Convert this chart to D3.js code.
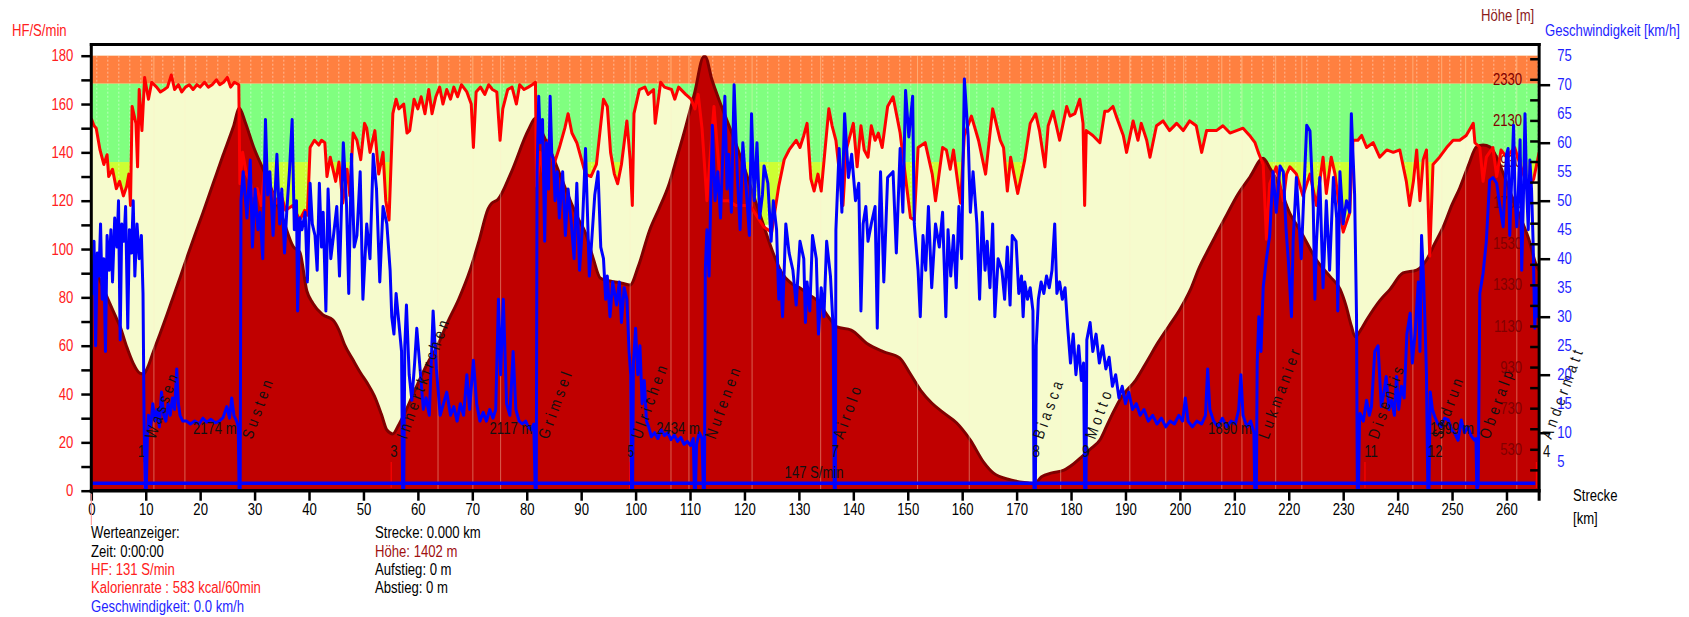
<!DOCTYPE html>
<html>
<head>
<meta charset="utf-8">
<script src="https://cdn.jsdelivr.net/npm/d3@7"></script>
<style>
  body { margin: 0; background: #fff; }
  svg { display: block; }
</style>
</head>
<body>
<svg id="chart" width="1689" height="617"></svg>
<script>
const FONT = '"Liberation Sans", Arial, sans-serif';
const SCHMAL = 0.82;   // Schrift wie Arial Narrow zusammendrücken

// Höhenprofil [km, m]
const hoehe = [
  [0,1418],[0.9,1402],[1.6,1353],[2.5,1295],[3.4,1240],[4.4,1180],[5.3,1126],[6.5,1029],[7.7,948],[8.9,900],[9.6,896],
  [10.3,925],[11.4,1005],[12.6,1090],[13.9,1185],[15.1,1275],[16.3,1365],[17.8,1480],[19,1570],[20.5,1680],[22.4,1824],
  [24.2,1960],[26.1,2099],[27.2,2189],[28.3,2120],[29.8,2002],[31.6,1890],[33.4,1775],[35.2,1650],[37.1,1516],[38.3,1490],
  [39.6,1300],[40.7,1241],[42.5,1185],[44.4,1159],[45.5,1110],[46.5,1040],[48.1,964],[49.5,900],[50.7,852],[52,790],
  [53.3,700],[54.3,624],[55.4,605],[56.5,650],[58,730],[60,850],[61.8,950],[63.5,1028],[65.5,1150],[67.5,1260],
  [69.6,1402],[71.3,1550],[72.9,1700],[73.5,1725],[74.7,1745],[77.1,1874],[80.3,2083],[81.6,2140],[82.5,2090],[84.3,1986],
  [86.2,1860],[88.2,1727],[89.5,1650],[90.8,1582],[92.2,1460],[93.5,1363],[95,1350],[96,1345],[97.5,1338],[99,1329],
  [100.5,1420],[102.6,1597],[104.3,1700],[106,1808],[107.6,1950],[109.2,2099],[110.9,2270],[112.5,2440],[112.8,2440],[114,2330],
  [115.8,2197],[117.8,2060],[119.7,1921],[121.6,1770],[123.6,1613],[125.2,1490],[126.9,1386],[128.5,1340],[130.2,1315],[132,1280],
  [133.6,1248],[135,1190],[136,1154],[137,1125],[139.6,1110],[142.5,1045],[145.5,1005],[148.5,975],[150.4,900],[152.4,815],
  [154.4,755],[156.6,707],[159,658],[161.5,575],[164,465],[165.7,415],[168.9,381],[172.2,366],[173.3,362],[174.6,397],
  [176.5,415],[178.7,429],[180.5,460],[182,494],[183.5,530],[185.3,575],[186.5,640],[187.7,707],[189.3,786],[191.9,867],
  [194,960],[196,1050],[198,1130],[200,1210],[202,1310],[203.5,1410],[205,1490],[206.8,1581],[208.6,1670],[210.4,1759],
  [212.9,1856],[215.3,1946],[216.5,1900],[217.8,1840],[220.2,1678],[222.2,1590],[225.1,1451],[227.6,1370],[229.4,1310],[230.5,1230],
  [231.5,1130],[232.2,1077],[233.2,1110],[234.3,1159],[236.8,1256],[238.6,1308],[241,1388],[243.5,1402],[245.3,1451],[246.8,1530],
  [248.4,1613],[250,1720],[251.4,1800],[253,1910],[254.5,2002],[255.7,2010],[257,2000],[258.2,1950],[259.4,1873],[261,1760],
  [262.5,1662],[264,1560],[265.6,1418],[266,1400]
];

// Herzfrequenz [km, S/min]
const herzfrequenz = [
  [0,154],[0.5,151],[0.9,150],[1.6,141],[2.3,135],[2.9,139],[3.2,130],[3.9,133],[4.6,125],[5.2,128],[5.9,122],[6.5,126],
  [6.9,131],[7.2,118],[7.5,159],[8.2,152],[8.5,134],[8.8,166],[9.3,149],[9.8,171],[10.5,162],[11.1,169],[12,167],[12.7,165],
  [13.4,166],[14,167],[14.7,172],[15.3,166],[16,168],[16.6,165],[17.3,167],[18,168],[18.7,166],[19.4,168],[20,167],[20.8,169],
  [21.5,167],[22.2,168],[23,170],[23.6,168],[24.3,169],[25,171],[25.6,167],[26.3,169],[27.1,168],[27.3,127],[27.8,140],[28.5,131],
  [29.2,128],[29.8,122],[30.5,125],[31.2,118],[31.8,132],[32.5,128],[33.1,124],[34,119],[34.8,123],[35.7,116],[37,118],[38.3,112],
  [39.2,116],[39.7,114],[40.2,142],[41,145],[41.8,143],[42.3,145],[42.9,144],[43.3,130],[43.9,138],[44.9,128],[45.5,136],[46.2,119],
  [47,133],[47.5,122],[48.1,148],[48.8,145],[49.5,137],[50.2,152],[50.6,150],[51.2,140],[52.1,149],[52.8,131],[53.6,140],[54.1,120],
  [54.7,112],[55.4,156],[56,162],[56.5,158],[57.4,160],[58,148],[58.5,149],[59.3,162],[60,158],[60.6,163],[61.3,156],[62,166],
  [62.6,156],[63.3,163],[64,167],[64.6,160],[65.3,166],[66,162],[66.6,167],[67.3,163],[68,168],[69,165],[69.8,160],[70.2,142],
  [70.7,165],[71.5,167],[72.3,164],[73,168],[73.7,166],[74.5,165],[75.1,145],[75.6,158],[76.5,166],[77.3,167],[78.1,160],[78.7,168],
  [79.5,166],[80.3,167],[81,168],[81.6,169],[81.8,126],[82.5,140],[83,132],[84,145],[85,135],[86,142],[87,150],[87.6,156],
  [88.3,148],[89.2,144],[90.8,131],[91.8,130],[92.8,135],[94.1,162],[94.8,159],[95.4,140],[96.1,131],[96.7,127],[97.4,135],[98.4,153],
  [99,137],[99.4,118],[99.7,156],[100.7,166],[101.7,167],[102.3,164],[103.3,166],[103.6,152],[104.6,169],[105.3,167],[106.6,166],[107.2,162],
  [107.9,167],[109.2,164],[110.2,162],[110.9,158],[111.5,164],[112.2,150],[113.1,120],[114.4,159],[115.8,120],[117.1,120],[118.4,118],[121,118],
  [123.6,109],[125,107],[126.3,126],[127.3,137],[128.2,141],[129.5,145],[130.2,142],[130.9,147],[131.5,152],[132.2,129],[132.8,124],[133.5,131],
  [134.1,124],[135.5,158],[136.1,151],[136.8,145],[138.1,118],[138.7,141],[140,152],[140.7,134],[141.4,151],[142,141],[142.7,138],[143.3,151],
  [144,145],[144.6,148],[145.3,142],[146.3,159],[147.3,163],[148,155],[148.6,148],[149.9,124],[150.5,113],[151.2,112],[151.9,142],[153.2,144],
  [154.5,131],[155.1,120],[156.4,142],[157.1,141],[157.8,133],[158.4,141],[159.1,129],[159.7,119],[160.4,147],[161.7,155],[163,145],[164.3,131],
  [165.6,158],[167,145],[167.6,142],[168.3,124],[168.9,138],[170.2,123],[171.5,137],[172.5,152],[173.5,156],[174.2,149],[175.2,134],[175.8,151],
  [176.7,157],[177.9,145],[179.2,159],[179.8,155],[180.7,156],[181.6,162],[182.2,152],[182.5,118],[182.8,149],[184,147],[185.3,144],[186.2,157],
  [186.8,157],[187.7,159],[188.3,155],[189.6,147],[190.2,140],[191.4,153],[192.3,145],[192.9,152],[193.9,145],[194.5,138],[195.7,151],[196.9,153],
  [198.1,149],[199.4,152],[200.6,149],[201.8,153],[203,151],[204,140],[204.9,149],[206.7,149],[207.9,151],[209.2,148],[210.4,149],[211.6,150],
  [212.8,147],[213.8,144],[214.4,140],[215.3,135],[215.9,104],[216.5,127],[217.7,134],[219,120],[219.6,131],[220.2,134],[221.4,131],[222.6,122],
  [223.9,131],[225.1,118],[225.7,128],[226.3,138],[226.9,123],[227.8,138],[228.5,131],[229.4,115],[230,107],[231.2,115],[231.8,145],[232.7,145],
  [233.4,147],[234.3,142],[235.5,144],[236.7,138],[238,141],[239.2,140],[240.4,141],[241.6,128],[242.2,118],[242.9,128],[243.5,141],[244.1,120],
  [244.7,137],[245.3,141],[245.9,97],[246.5,135],[247.7,138],[249,142],[250.2,145],[251.4,145],[252.6,147],[253.9,152],[254.2,144],[255.1,142],
  [255.7,128],[256.3,138],[257.5,142],[258.2,130],[259,141],[260,138],[261.5,142],[262.5,135],[264,125],[265,129],[266,140]
];

// Geschwindigkeit [km, km/h]
const geschwindigkeit = [
  [0,38],[0.3,34],[0.5,43],[0.8,25],[1.1,41],[1.4,37],[1.7,46],[2,33],[2.3,40],[2.6,24],[2.9,44],[3.3,38],[3.6,45],[3.9,36],
  [4.3,47],[4.7,42],[5,50],[5.3,26],[5.6,46],[6,43],[6.3,49],[6.7,28],[7,45],[7.4,41],[7.7,50],[8,37],[8.4,46],[8.8,40],
  [9.2,44],[9.5,34],[9.7,12],[9.9,0],[10.1,0],[10.3,9],[10.5,13],[10.9,11],[11.3,15],[11.7,12],[12.1,14],[12.5,11],[12.9,17],
  [13.3,13],[13.7,12],[14.1,15],[14.5,13],[14.9,16],[15.3,14],[15.7,21],[16,15],[16.3,13],[16.8,12],[17.5,12],[18.2,11.5],
  [19,12],[19.8,11.5],[20.5,12.5],[21.2,11.8],[22,12.3],[22.8,11.7],[23.5,12],[24.2,12.6],[24.9,14.5],[25.4,12.5],[25.8,16],
  [26.2,13],[26.7,12],[27,11],[27.15,0],[27.35,0],[27.5,50],[27.9,55],[28.6,47],[29.2,57],[29.6,42],[30.1,52],[30.6,45],
  [31,48],[31.5,40],[32,64],[32.4,51],[32.8,55],[33.4,44],[34.1,58],[34.6,46],[35,52],[35.5,41],[35.9,48],[36.4,55],
  [36.9,64],[37.3,45],[37.7,50],[37.9,31],[38.3,47],[38.7,45],[39.3,48],[39.7,36],[40.2,53],[40.6,46],[41.1,44],[41.5,38],
  [41.9,53],[42.3,42],[42.6,48],[43.1,31],[43.5,52],[44,40],[44.5,44],[45.1,49],[45.6,37],[46.3,60],[46.9,49],[47.3,34],
  [47.8,58],[48.3,42],[48.8,44],[49.4,55],[49.9,33],[50.6,46],[51.2,40],[51.8,58],[52.4,52],[53,36],[53.6,49],[54.3,46],
  [54.9,38],[55.2,30],[55.6,27],[56,34],[56.5,29],[57,24],[57.2,0],[57.4,0],[57.6,25],[57.9,32],[58.4,20],[58.9,15.6],
  [59.4,22],[59.8,28],[60.4,21],[61,14],[61.5,16],[62.1,13],[62.8,31],[63.4,21],[64.1,13],[64.7,15],[65.3,17],[66,13],
  [66.6,14.5],[67.2,12],[67.8,15],[68.4,13],[69,20],[69.5,14],[70.2,22.5],[70.8,15],[71.4,12],[72,13.5],[72.6,12],[73.2,14],
  [73.8,12.5],[74.3,14],[74.8,33],[75.2,20],[75.7,33],[76.3,15],[76.9,13],[77.5,24],[78,14],[78.6,12],[79.2,11.5],[79.8,12],
  [80.3,11],[80.8,10.5],[81.3,11.5],[81.55,0],[81.75,0],[81.9,55],[82.2,68],[82.5,60],[82.9,64],[83.3,43],[83.6,60],[84,52],
  [84.3,68],[84.6,58],[84.9,57],[85.2,50],[85.6,55],[86,47],[86.6,55],[87.1,44],[87.6,52],[88.2,46],[88.7,40],[89.2,53],
  [89.7,38],[90.2,45],[90.8,59],[91.5,37],[92,44],[92.5,51],[93.1,55],[93.6,42],[94.1,40],[94.5,33],[94.8,37],[95.3,30],
  [95.8,36],[96.5,32],[97,36],[97.4,29],[97.9,35],[98.4,33],[98.8,24],[99.1,20],[99.25,0],[99.45,0],[99.6,22],[100,28],
  [100.4,20],[100.8,25],[101.2,15],[101.6,19],[102,12],[102.4,11],[102.9,9.3],[103.5,10],[104.1,9],[104.7,10.5],[105.3,9.5],
  [105.9,10],[106.5,8.8],[107.1,9.6],[107.7,8.5],[108.3,9.2],[108.9,8],[109.5,8.5],[110.1,7.8],[110.6,9],[110.8,0],[111,0],
  [111.2,8],[111.7,10],[112.2,9],[112.45,0],[112.65,0],[112.8,38],[113.1,45],[113.5,37],[114.1,63],[114.6,50],[115.1,55],
  [115.6,47],[116.4,68],[116.8,52],[117.1,58],[117.6,48],[118.1,70],[118.7,54],[119.2,45],[119.7,60],[120.4,51],[120.9,44],
  [121.3,65],[121.8,50],[122.3,60],[122.8,47],[123.3,51],[123.6,56],[124.3,53],[124.9,43],[125.3,50],[125.9,45],[126.3,33],
  [126.6,38],[127,30],[127.6,46],[128.2,41],[128.9,38],[129.5,32],[130.2,43],[130.9,40],[131.2,29],[131.5,36],[132,31],
  [132.5,44],[133.2,40],[133.6,27],[134.1,35],[134.6,30],[135.1,43],[135.8,37],[136.3,28],[136.5,0],[136.7,0],[136.8,45],
  [137.4,59],[137.9,48],[138.4,65],[139.1,54],[139.7,58],[140.4,50],[141,53],[141.4,31],[141.8,46],[142.3,49],[142.7,43],
  [143.3,46],[144,49],[144.4,28],[144.7,44],[145,55],[145.6,36],[146.3,54],[147.3,55],[147.9,41],[148.6,59],[149.1,48],
  [149.6,69],[150.2,61],[150.9,68],[151.2,46],[151.9,38],[152.3,30],[152.8,44],[153.3,38],[153.8,49],[154.4,35],[155.1,46],
  [155.8,42],[156.4,48],[157,30],[157.4,45],[157.9,37],[158.4,44],[158.9,35],[159.4,49],[159.9,40],[160.4,71],[161.1,61],
  [161.5,48],[162,55],[162.7,46],[163.2,33],[163.7,48],[164.2,38],[164.6,43],[165.1,35],[165.6,46],[166,30],[166.6,40],
  [167.3,38],[167.8,33],[168.3,42],[168.8,32],[169.2,44],[169.9,43],[170.4,34],[170.9,37],[171.2,30],[171.5,36],[172,33],
  [172.5,35],[173,31],[173.2,0],[173.45,0],[173.6,25],[174,33],[174.5,36],[175,34],[175.5,37],[176,35],[176.5,38],[177,46],
  [177.4,34],[177.9,36],[178.4,33],[178.9,35],[179.4,28],[179.9,22],[180.4,27],[180.9,20],[181.4,25],[181.9,19],[182.3,22],
  [182.5,0],[182.75,0],[182.9,26],[183.5,29],[184,24],[184.6,27],[185.2,22],[185.8,25],[186.4,21],[187,23],[187.6,18],
  [188.2,20],[188.8,16],[189.4,18],[190,15],[190.6,17],[191.3,14],[192,15],[192.7,13],[193.4,14],[194.2,12],[195,13],
  [195.8,11.5],[196.6,12.5],[197.4,11],[198.2,12],[199,11.5],[199.8,13],[200.5,12],[201,16],[201.5,12],[202.3,11],[203.1,12],
  [204,11.5],[204.7,13],[205.1,21],[205.5,14],[206.2,12],[207,11],[207.8,12.5],[208.6,11],[209.4,12],[210.2,11.5],[210.8,14],
  [211.2,20],[211.6,13],[212.3,11],[213,12],[213.6,10],[213.75,0],[214.05,0],[214.2,22],[214.5,30],[214.9,24],[215.3,35],
  [215.9,40],[216.5,44],[217.1,55],[217.7,48],[218.4,56],[219,55],[219.5,45],[219.9,40],[220.5,30],[220.8,43],[221.4,54],
  [221.9,46],[222.3,40],[222.8,52],[223.3,63],[223.9,62],[224.5,49],[224.8,33],[225.1,43],[225.7,54],[226.3,35],[226.9,50],
  [227.5,38],[228.2,54],[228.8,47],[229,31],[229.4,55],[230,46],[230.6,50],[231.2,48],[231.5,65],[232.1,51],[232.45,30],
  [232.6,0],[232.8,0],[233,12],[233.1,13.3],[233.7,12],[234.3,15.6],[234.8,13],[235.2,14.5],[235.8,24],[236.4,25],[237,14.5],
  [237.5,17],[237.9,19.7],[238.4,14],[238.9,15.6],[239.4,13],[239.8,19.7],[240.2,14],[240.7,18],[241.2,16],[241.7,27],
  [242.3,30.6],[242.7,22],[243.2,27],[243.8,36],[244.1,24],[244.4,44],[244.7,38],[245,30],[245.3,20],[245.55,0],[245.75,0],
  [246,17],[246.4,14],[246.8,12.8],[247.4,11.5],[248,11],[248.6,12.5],[249.3,12.2],[249.9,10.5],[250.5,9.9],[251.1,8.7],
  [251.7,12.2],[252.3,10],[252.9,11],[253.5,9.5],[254.1,8.7],[254.4,9],[254.55,0],[254.8,1],[255.1,34],[255.7,37.5],
  [256.3,43],[256.9,53.5],[257.5,54],[258.2,53],[258.8,49],[259.4,45.5],[260,58],[260.3,59],[260.6,44],[261,55],[261.3,63],
  [261.6,50],[261.9,45.5],[262.2,52],[262.5,60.5],[262.8,38],[263.1,50],[263.4,65],[263.7,52],[264,45],[264.3,57],[264.6,52],
  [264.9,42.6],[265.2,28],[265.5,35],[265.8,30],[266,32]
];

const grundGeschwindigkeit = 1.3;              // durchgehende blaue Linie unten
const hfZonen = [[110, 136], [136, 168.5], [168.5, 180]];
const runden = [11.5, 17.2, 63.7, 70.1, 75.2, 99, 106.5, 109.8, 121.4, 134, 151.8, 161.3, 178.1, 190.8,
  197.4, 200.7, 207.7, 211.4, 217.6, 222.4, 242.8, 248.1, 252.5, 261.9];
const orte = [['Wassen', 10.8], ['Susten', 28.6], ['Innertkirchen', 57], ['Grimsel', 83], ['Ulrichen', 100.1],
  ['Nufenen', 113.7], ['Airolo', 137.2], ['Biasca', 173.9], ['Motto', 183.5], ['Lukmanier', 215.3],
  ['Disentis', 235.5], ['Sedrun', 247.2], ['Oberalp', 255.9], ['Andermatt', 267.3]];
const marken = [['1', 9.2], ['3', 55.6], ['5', 99.1], ['7', 136.6], ['8', 173.6], ['9', 182.7],
  ['11', 235.1], ['12', 246.9], ['4', 267.4]];
const markenLinien = [9.6, 55.1, 98.9, 136.4, 173.2, 182.4, 234, 245.8, 265.5];
const hoehenTexte = [['2174 m', 22.7], ['2117 m', 77.1], ['2434 m', 107.8], ['1890 m', 209.2], ['1999 m', 250]];
const hfSchnitt = ['147 S/min', 132.8];

const xTicks = [0,10,20,30,40,50,60,70,80,90,100,110,120,130,140,150,160,170,180,190,200,210,220,230,240,250,260];
const hfTicks = [0,10,20,30,40,50,60,70,80,90,100,110,120,130,140,150,160,170,180];
const hoeheLabels = [530, 730, 930, 1130, 1330, 1530, 1730, 1930, 2130, 2330];
const hoeheTicks = [430,530,630,730,830,930,1030,1130,1230,1330,1430,1530,1630,1730,1830,1930,2030,2130,2230,2330,2430];
const speedLabels = [5,10,15,20,25,30,35,40,45,50,55,60,65,70,75];
const speedTicks = [10, 20, 30, 40, 50, 60, 70];

const legende1 = [['Werteanzeiger:', '#000'], ['Zeit: 0:00:00', '#000'], ['HF: 131 S/min', '#ff2020'],
  ['Kalorienrate : 583 kcal/60min', '#ff2020'], ['Geschwindigkeit: 0.0 km/h', '#1f1fff']];
const legende2 = [['Strecke: 0.000 km', '#000'], ['Höhe: 1402 m', '#a01010'], ['Aufstieg: 0 m', '#000'], ['Abstieg: 0 m', '#000']];

// Skalen
const x = d3.scaleLinear().domain([0, 266]).range([91.3, 91.3 + 266 * 5.443]);
const yHF = d3.scaleLinear().domain([0, 180]).range([490.7, 55.7]);
const ySpeed = d3.scaleLinear().domain([0, 75]).range([490.7, 55.7]);
const yHoehe = d3.scaleLinear().domain([530, 2330]).range([449.3, 79.3]);

const L = x(0), R = x(266), T = 44.5, B = yHF(0);

const svg = d3.select('#chart').attr('font-family', FONT).attr('font-size', 16);
const defs = svg.append('defs');
defs.append('clipPath').attr('id', 'plotClip').append('rect')
  .attr('x', L).attr('y', T).attr('width', R - L).attr('height', B - T);
const pat = defs.append('pattern').attr('id', 'dots').attr('patternUnits', 'userSpaceOnUse')
  .attr('x', L + 5).attr('y', yHF(180)).attr('width', 11).attr('height', 4);
pat.append('rect').attr('width', 1).attr('height', 2).attr('fill', '#fff').attr('opacity', 0.45);

const plot = svg.append('g').attr('clip-path', 'url(#plotClip)');

// Hintergrund + Zonen
const zonenFarben = ['#ccff33', '#80ff80', '#ff8040'];
plot.append('rect').attr('x', L).attr('y', yHF(180)).attr('width', R - L).attr('height', B - yHF(180)).attr('fill', '#f6fbcd');
hfZonen.forEach((z, i) => {
  plot.append('rect').attr('x', L).attr('width', R - L)
    .attr('y', yHF(z[1])).attr('height', yHF(z[0]) - yHF(z[1])).attr('fill', zonenFarben[i]);
});
plot.append('rect').attr('x', L).attr('width', R - L)
  .attr('y', yHF(180)).attr('height', yHF(hfZonen[0][0]) - yHF(180)).attr('fill', 'url(#dots)');

// HF-Fläche
plot.append('path').datum(herzfrequenz)
  .attr('d', d3.area().x(d => x(d[0])).y0(B).y1(d => yHF(d[1])))
  .attr('fill', '#f6fbcd');

// Höhenprofil
plot.append('path').datum(hoehe)
  .attr('d', d3.area().x(d => x(d[0])).y0(B).y1(d => yHoehe(d[1])).curve(d3.curveMonotoneX))
  .attr('fill', '#c00000');
plot.append('path').datum(hoehe)
  .attr('d', d3.line().x(d => x(d[0])).y(d => yHoehe(d[1])).curve(d3.curveMonotoneX))
  .attr('fill', 'none').attr('stroke', '#800000').attr('stroke-width', 3).attr('stroke-linejoin', 'round');

// Runden
plot.selectAll('.runde').data(runden).join('line')
  .attr('x1', d => x(d)).attr('x2', d => x(d)).attr('y1', yHF(180)).attr('y2', B)
  .attr('stroke', 'rgba(255,240,200,0.4)').attr('stroke-width', 1);

// Höhen-Beschriftung innen
const hoeheLab = plot.append('g').attr('transform', `translate(${R},0)`)
  .call(d3.axisLeft(yHoehe).tickValues(hoeheLabels).tickSize(0).tickPadding(17).tickFormat(d3.format('d')));
hoeheLab.select('.domain').remove();
hoeheLab.attr('font-family', FONT).attr('font-size', 16);
hoeheLab.selectAll('text').attr('fill', '#800000');

// Markenlinien
plot.selectAll('.mlin').data(markenLinien).join('line')
  .attr('x1', d => x(d)).attr('x2', d => x(d)).attr('y1', 462).attr('y2', 488)
  .attr('stroke', '#ff0000').attr('stroke-width', 1.2);

// HF-Linie
plot.append('path').datum(herzfrequenz)
  .attr('d', d3.line().x(d => x(d[0])).y(d => yHF(d[1])))
  .attr('fill', 'none').attr('stroke', '#ff0000').attr('stroke-width', 3).attr('stroke-linejoin', 'round');

// Geschwindigkeit
plot.append('path').datum(geschwindigkeit)
  .attr('d', d3.line().x(d => x(d[0])).y(d => ySpeed(d[1])))
  .attr('fill', 'none').attr('stroke', '#0000ff').attr('stroke-width', 3).attr('stroke-linejoin', 'round');
plot.append('line').attr('x1', L).attr('x2', x(265.3))
  .attr('y1', ySpeed(grundGeschwindigkeit)).attr('y2', ySpeed(grundGeschwindigkeit))
  .attr('stroke', '#0000ff').attr('stroke-width', 3.5);

// Texte im Diagramm
const txt = svg.append('g').attr('fill', '#111');
orte.forEach(([name, km]) => {
  const px = x(km) + 5, py = 440;
  txt.append('text').attr('x', px).attr('y', py).attr('letter-spacing', 5)
    .attr('transform', `rotate(-70,${px},${py})`).text(name);
});
marken.forEach(([m, km]) => {
  txt.append('text').attr('x', x(km)).attr('y', 457).attr('text-anchor', 'middle').text(m);
});
hoehenTexte.forEach(([t, km]) => {
  txt.append('text').attr('x', x(km)).attr('y', 434).attr('text-anchor', 'middle').text(t);
});
txt.append('text').attr('x', x(hfSchnitt[1])).attr('y', 478).attr('text-anchor', 'middle').text(hfSchnitt[0]);

// Achsen
const hfAxis = svg.append('g').attr('transform', `translate(${L},0)`)
  .call(d3.axisLeft(yHF).tickValues(hfTicks).tickSize(10).tickPadding(8)
    .tickFormat(d => d % 20 === 0 ? d : ''));
const xAxis = svg.append('g').attr('transform', `translate(0,${B})`)
  .call(d3.axisBottom(x).tickValues(xTicks).tickSize(10).tickPadding(3));
const hTicks = svg.append('g').attr('transform', `translate(${R},0)`)
  .call(d3.axisLeft(yHoehe).tickValues(hoeheTicks).tickSize(9).tickFormat(''));
const sTicks = svg.append('g').attr('transform', `translate(${R},0)`)
  .call(d3.axisRight(ySpeed).tickValues(speedTicks).tickSize(11).tickFormat(''));
const sLab = svg.append('g').attr('transform', `translate(${R},0)`)
  .call(d3.axisRight(ySpeed).tickValues(speedLabels).tickSize(0).tickPadding(18));

[hfAxis, xAxis, hTicks, sTicks, sLab].forEach(g => {
  g.select('.domain').remove();
  g.attr('font-family', FONT).attr('font-size', 16);
  g.selectAll('line').attr('stroke', '#000').attr('stroke-width', 2.5);
  g.selectAll('text').attr('fill', '#000');
});
hfAxis.selectAll('text').attr('fill', '#ff2020');
sLab.selectAll('text').attr('fill', '#1f1fff');

// Rahmen
const frame = svg.append('g').attr('stroke', '#000').attr('stroke-width', 3);
frame.append('line').attr('x1', L).attr('x2', L).attr('y1', T - 1.5).attr('y2', B + 2);
frame.append('line').attr('x1', L - 1.5).attr('x2', R + 1.5).attr('y1', T).attr('y2', T);
frame.append('line').attr('x1', R).attr('x2', R).attr('y1', T - 1.5).attr('y2', B + 10);
frame.append('line').attr('x1', L - 1.5).attr('x2', R + 1.5).attr('y1', B).attr('y2', B).attr('stroke-width', 3.5);

// Achsentitel
svg.append('text').attr('x', 12).attr('y', 36).attr('fill', '#ff2020').text('HF/S/min');
svg.append('text').attr('x', 1481).attr('y', 21).attr('fill', '#8b1a1a').text('Höhe [m]');
svg.append('text').attr('x', 1545).attr('y', 36).attr('fill', '#1f1fff').text('Geschwindigkeit [km/h]');
svg.append('text').attr('x', 1573).attr('y', 501).attr('fill', '#000').text('Strecke');
svg.append('text').attr('x', 1573).attr('y', 524).attr('fill', '#000').text('[km]');

// Werteanzeiger
svg.append('line').attr('x1', L).attr('x2', L).attr('y1', B + 3).attr('y2', 525)
  .attr('stroke', '#ff9090').attr('stroke-width', 1);
legende1.forEach(([t, c], i) => {
  svg.append('text').attr('x', 91).attr('y', 538.5 + i * 18.3).attr('fill', c).text(t);
});
legende2.forEach(([t, c], i) => {
  svg.append('text').attr('x', 375).attr('y', 538.5 + i * 18.3).attr('fill', c).text(t);
});

// alle Texte schmal machen (horizontal um den Ankerpunkt stauchen)
svg.selectAll('text').each(function () {
  const t = d3.select(this);
  const ax = +t.attr('x') || 0, ay = +t.attr('y') || 0;
  const alt = t.attr('transform') || '';
  t.attr('transform', `${alt} translate(${ax},${ay}) scale(${SCHMAL},1) translate(${-ax},${-ay})`);
});
</script>
</body>
</html>
